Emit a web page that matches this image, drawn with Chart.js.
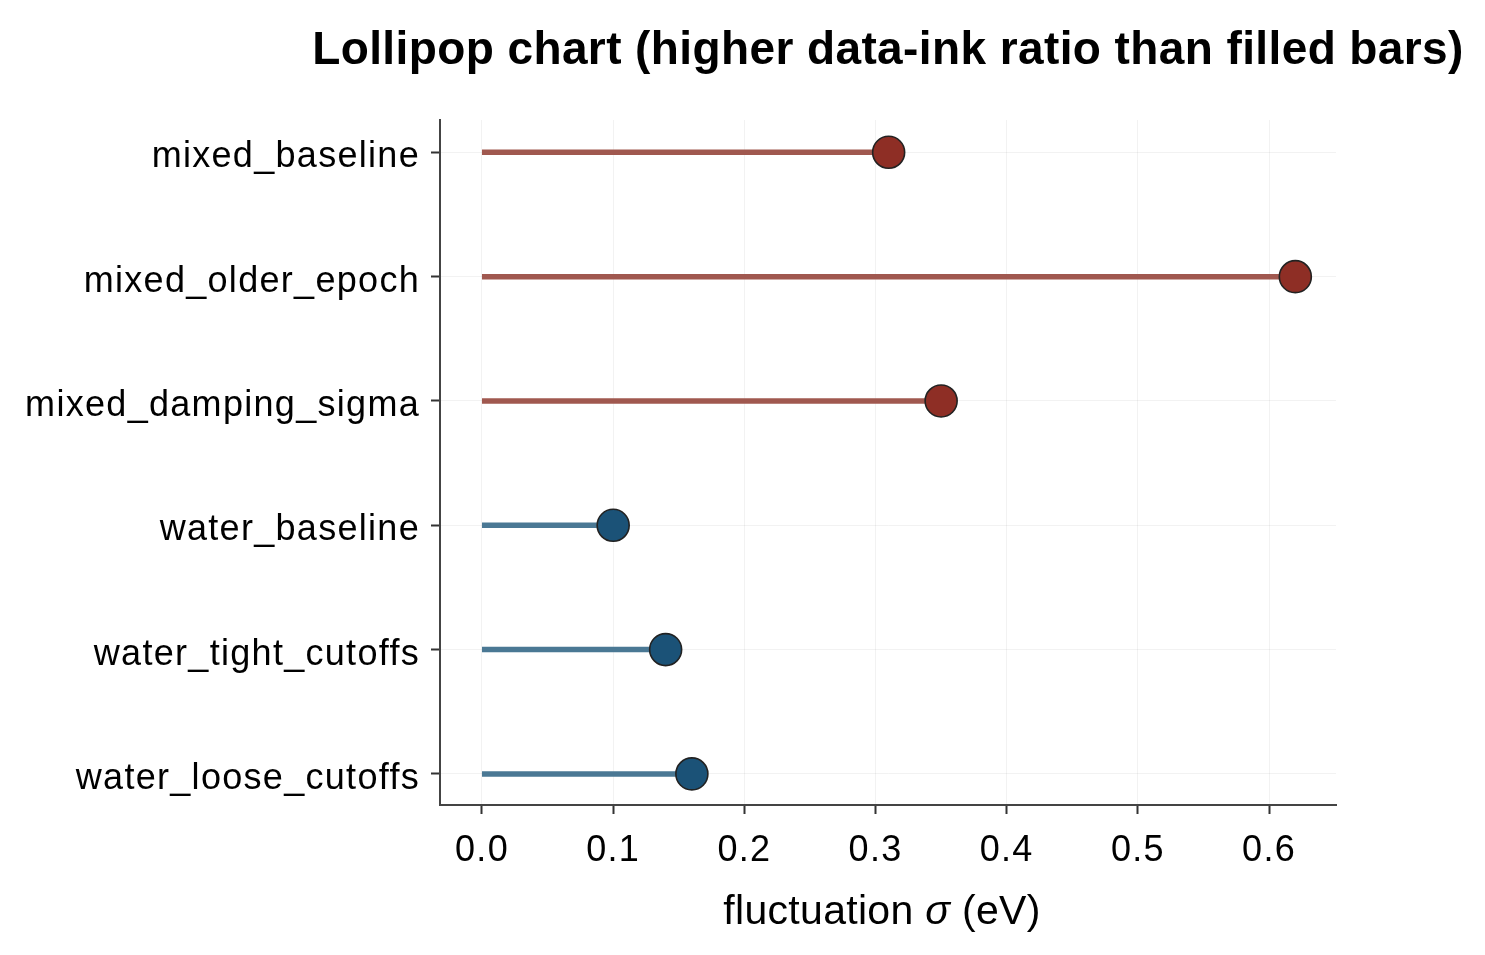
<!DOCTYPE html>
<html>
<head>
<meta charset="utf-8">
<script src="https://cdn.jsdelivr.net/npm/chart.js@4/dist/chart.umd.min.js"></script>
<style>
	body { margin: 0; background: #fff; }
	#wrap { width: 1485px; height: 955px; }
</style>
</head>
<body>
<div id="wrap"><canvas id="chart" width="1485" height="955"></canvas></div>
<script>
// data
const categories = [
	"mixed_baseline",
	"mixed_older_epoch",
	"mixed_damping_sigma",
	"water_baseline",
	"water_tight_cutoffs",
	"water_loose_cutoffs",
];
const groups = ["mixed", "mixed", "mixed", "water", "water", "water"];
const sigmaValues = [0.31, 0.62, 0.35, 0.1, 0.14, 0.16];
const xTicks = [0.0, 0.1, 0.2, 0.3, 0.4, 0.5, 0.6];

const titleText = "Lollipop chart (higher data-ink ratio than filled bars)";
// x axis title, the sigma is drawn in italics
const xTitleParts = [
	{ text: "fluctuation ", style: "normal" },
	{ text: "σ", style: "italic" },
	{ text: " (eV)", style: "normal" },
];

const stemColors = { mixed: "#a0584f", water: "#4a7894" };
const dotColors = { mixed: "#8e2e25", water: "#1b5277" };

const fontFamily = "'Liberation Sans', Arial, Helvetica, sans-serif";

// dots first so they sit on top of the stems
const datasets = [
	{
		label: "sigma",
		data: sigmaValues.map((v, i) => ({ x: v, y: i })),
		pointRadius: 16,
		pointHoverRadius: 16,
		pointBackgroundColor: groups.map((g) => dotColors[g]),
		pointBorderColor: "#222222",
		pointBorderWidth: 1.6,
		showLine: false,
		order: 0,
	},
];

sigmaValues.forEach((v, i) => {
	datasets.push({
		label: categories[i],
		data: [
			{ x: 0, y: i },
			{ x: v, y: i },
		],
		showLine: true,
		borderColor: stemColors[groups[i]],
		borderWidth: 5.5,
		borderCapStyle: "butt",
		pointRadius: 0,
		order: 1,
	});
});

// wider letter spacing for the tick labels, plus the title and axis title
const textPlugin = {
	id: "textPlugin",
	beforeDraw(chart) {
		chart.ctx.letterSpacing = "1.3px";
	},
	afterDraw(chart) {
		const c = chart.ctx;
		const area = chart.chartArea;
		const mid = (area.left + area.right) / 2;
		c.save();
		c.fillStyle = "#000";
		c.textAlign = "left";
		c.textBaseline = "alphabetic";

		c.font = `bold 46px ${fontFamily}`;
		c.letterSpacing = "0.4px";
		const tw = c.measureText(titleText).width;
		c.fillText(titleText, mid - tw / 2, 64);

		c.letterSpacing = "0.3px";
		const widths = xTitleParts.map((p) => {
			c.font = `${p.style} 41px ${fontFamily}`;
			return c.measureText(p.text).width;
		});
		const total = widths.reduce((a, b) => a + b, 0);
		let x = mid - 6 - total / 2;
		xTitleParts.forEach((p, i) => {
			c.font = `${p.style} 41px ${fontFamily}`;
			c.fillText(p.text, x, 924);
			x += widths[i];
		});
		c.restore();
	},
};

const ctx = document.getElementById("chart").getContext("2d");
new Chart(ctx, {
	type: "scatter",
	data: { datasets: datasets },
	plugins: [textPlugin],
	options: {
		responsive: false,
		animation: false,
		devicePixelRatio: 1,
		layout: { padding: { left: 0, right: 149, top: 120, bottom: 0 } },
		plugins: {
			legend: { display: false },
			tooltip: { enabled: false },
			title: { display: false },
		},
		scales: {
			x: {
				type: "linear",
				min: -0.032,
				max: 0.651,
				afterBuildTicks: (scale) => {
					scale.ticks = xTicks.map((v) => ({ value: v }));
				},
				afterFit: (scale) => {
					scale.height = 150;
				},
				ticks: {
					color: "#000",
					font: { family: fontFamily, size: 36 },
					padding: 15,
					maxRotation: 0,
					callback: (value) => value.toFixed(1),
				},
				grid: {
					color: "rgba(0,0,0,0.05)",
					lineWidth: 1,
					drawTicks: true,
					tickLength: 9,
					tickColor: "#333",
					tickWidth: 2,
				},
				border: { display: true, color: "#444", width: 2 },
			},
			y: {
				type: "linear",
				reverse: true,
				min: -0.26,
				max: 5.25,
				afterBuildTicks: (scale) => {
					scale.ticks = categories.map((_, i) => ({ value: i }));
				},
				afterFit: (scale) => {
					scale.width = 440;
				},
				ticks: {
					color: "#000",
					font: { family: fontFamily, size: 36 },
					padding: 11,
					labelOffset: 5,
					callback: (value) => categories[value],
				},
				grid: {
					color: "rgba(0,0,0,0.05)",
					lineWidth: 1,
					drawTicks: true,
					tickLength: 9,
					tickColor: "#333",
					tickWidth: 2,
				},
				border: { display: true, color: "#444", width: 2 },
			},
		},
	},
});
</script>
</body>
</html>
